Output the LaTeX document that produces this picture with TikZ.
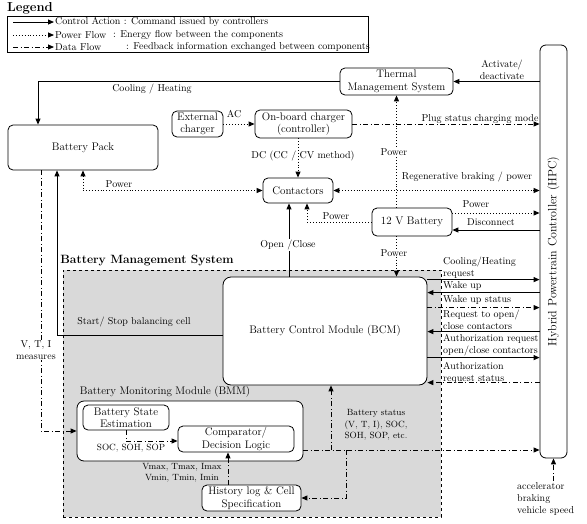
\documentclass[tikz,border=0pt]{standalone}
\usepackage{tikz}
\usetikzlibrary{arrows.meta}

\begin{document}
\begin{tikzpicture}[x=1pt, y=-1pt, >={Triangle[length=6pt,width=5pt]}]
\tikzstyle{box}=[draw, rounded corners=5pt, fill=white, line width=0.8pt, align=center, inner sep=1pt, font=\fontsize{11}{12.5}\selectfont]
\tikzstyle{lbl}=[inner sep=1pt, align=center, font=\fontsize{10}{12}\selectfont]
\tikzstyle{sml}=[inner sep=1pt, align=center, font=\fontsize{9}{11.5}\selectfont]
\tikzstyle{ctrl}=[->, line width=1pt]
\tikzstyle{pwr}=[->, line width=0.9pt, dash pattern=on 0.9pt off 2pt]
\tikzstyle{data}=[->, line width=0.9pt, dash pattern=on 5pt off 2.5pt on 1pt off 2.5pt]
\useasboundingbox (0,0) rectangle (587,523);

% legend
\node[font=\fontsize{13}{15}\bfseries\selectfont, inner sep=0pt] (legt) at (30,8) {Legend};
\node[draw, line width=0.6pt, minimum width=361pt, minimum height=36pt, inner sep=0pt] (leg) at (187.5,34) {};
\node[lbl, anchor=west] (lc) at (54,22) {Control Action : Command issued by controllers};
\node[lbl, anchor=west] (lp) at (54,35) {Power Flow};
\node[lbl, anchor=west] (lpd) at (112,35) {: Energy flow between the components};
\node[lbl, anchor=west] (ld) at (54,47) {Data Flow};
\node[lbl, anchor=west] (ldd) at (125,47) {: Feedback information exchanged between components};
\coordinate (lc0) at (13,22);
\coordinate (lp0) at (13,35);
\coordinate (ld0) at (13,47);
\draw[ctrl] (lc0) -- (lc.west);
\draw[pwr] (lp0) -- (lp.west);
\draw[data] (ld0) -- (ld.west);

% battery management system area
\node[draw, dashed, line width=0.7pt, fill=black!15, minimum width=378pt, minimum height=247pt, inner sep=0pt] (bms) at (252,393.5) {};
\node[font=\fontsize{12}{14}\bfseries\selectfont, inner sep=0pt] (bmst) at (147,261) {Battery Management System};

% blocks
\node[box, minimum width=150pt, minimum height=45pt] (pack) at (83,147.5) {Battery Pack};
\node[box, minimum width=113pt, minimum height=27pt] (tms) at (396.5,81.5) {Thermal\\Management System};
\node[box, minimum width=27pt, minimum height=413pt, rounded corners=6pt] (hpc) at (553.5,251.5) {};
\node[inner sep=0pt, rotate=90, font=\fontsize{12}{14}\selectfont] (hpct) at (hpc.center) {Hybrid Powertrain Controller (HPC)};
\node[box, minimum width=51pt, minimum height=26pt] (ext) at (197.5,124) {External\\charger};
\node[box, minimum width=97pt, minimum height=28pt] (obc) at (303.5,124) {On-board charger\\(controller)};
\node[box, minimum width=70pt, minimum height=25pt] (cont) at (298,190.5) {Contactors};
\node[box, minimum width=80pt, minimum height=28pt] (bat) at (412,222) {12 V Battery};
\node[box, minimum width=204pt, minimum height=108pt, rounded corners=8pt] (bcm) at (325,331) {Battery Control Module (BCM)};
\node[box, minimum width=226pt, minimum height=60pt, rounded corners=7pt] (bmm) at (190,431) {};
\node[box, minimum width=86pt, minimum height=25pt] (bse) at (126,417.5) {Battery State\\Estimation};
\node[box, minimum width=116pt, minimum height=26pt] (cdl) at (236,439) {Comparator/\\Decision Logic};
\node[box, minimum width=99pt, minimum height=26pt] (hist) at (251.5,498) {History log \& Cell\\Specification};
\node[lbl, align=left, anchor=north west] (acc) at (516,481) {accelerator\\braking\\vehicle speed};

% control actions
\draw[ctrl] (tms.west) -| ([xshift=-45pt]pack.north);
\draw[ctrl] (hpc.west |- tms.east) -- (tms.east);
\draw[ctrl] ([xshift=-9pt]cont.south |- bcm.north) -- ([xshift=-9pt]cont.south);
\draw[ctrl] ([yshift=-4pt]bcm.west) -| ([xshift=-26pt]pack.south);
\draw[ctrl] ([yshift=-8pt]bat.east -| hpc.west) -- ([yshift=-8pt]bat.east);
\draw[ctrl] ([yshift=-3pt]bcm.north east) -- ([yshift=-3pt]bcm.north east -| hpc.west);
\draw[ctrl] ([yshift=-16pt]bcm.north east -| hpc.west) -- ([yshift=-16pt]bcm.north east);
\draw[ctrl] ([yshift=-55pt]bcm.north east -| hpc.west) -- ([yshift=-55pt]bcm.north east);
\draw[ctrl] ([yshift=-81pt]bcm.north east) -- ([yshift=-81pt]bcm.north east -| hpc.west);

% power flows
\draw[pwr] (ext.east) -- (obc.west);
\draw[pwr] (obc.south -| cont.north) -- (cont.north);
\draw[pwr, <->] (pack.south) |- (cont.west);
\draw[pwr, <->] (cont.east) -- (cont.east -| hpc.west);
\draw[pwr] (bat.north -| tms.south) -- (tms.south);
\draw[pwr] ([yshift=9pt]bat.east) -- ([yshift=9pt]bat.east -| hpc.west);
\draw[pwr] (bat.west) -| ([xshift=9pt]cont.south);
\draw[pwr] ([xshift=-15.5pt]bat.south) -- ([xshift=-15.5pt]bat.south |- bcm.north);

% data flows
\draw[data] (obc.east) -- (obc.east -| hpc.west);
\draw[data] ([xshift=-42pt]pack.south) |- (bmm.west);
\draw[data] (bse.south) |- ([yshift=-2pt]cdl.west);
\draw[data] ([xshift=-23.5pt]hist.north) -- ([xshift=-23.5pt]hist.north |- cdl.south);
\coordinate (bs) at ([yshift=-19pt]bmm.east);
\draw[data] (bs) -- (bs -| hpc.west);
\draw[data] ([xshift=6pt]bcm.south |- bs) -- ([xshift=6pt]bcm.south);
\draw[data] ([xshift=21pt]bcm.south |- bs) |- (hist.east);
\draw[data] ([yshift=-31pt]bcm.north east) -- ([yshift=-31pt]bcm.north east -| hpc.west);
\draw[data] ([yshift=-106pt]bcm.north east -| hpc.west) -- ([yshift=-106pt]bcm.north east);
\draw[data] (acc.north -| hpc.south) -- (hpc.south);

% labels
\node[lbl] (lcool) at (152,89) {Cooling / Heating};
\node[lbl] (lact) at (502,70) {Activate/\\deactivate};
\node[lbl] (lac) at (234,114) {AC};
\node[lbl] (ldc) at (303,156) {DC (CC / CV method)};
\node[lbl, fill=white] (lpw1) at (394,152) {Power};
\node[lbl] (lplug) at (480,119) {Plug status charging mode};
\node[lbl] (lregen) at (467,177) {Regenerative braking / power};
\node[lbl] (lpw2) at (119,184) {Power};
\node[lbl] (lpw3) at (476,204) {Power};
\node[lbl] (ldis) at (491,222) {Disconnect};
\node[lbl] (lpw4) at (336,216) {Power};
\node[lbl, fill=white] (lopen) at (288,245) {Open /Close};
\node[lbl, fill=white] (lpw5) at (394,253) {Power};
\node[lbl] (lstart) at (134,322) {Start/ Stop balancing cell};
\node[lbl, fill=white] (lvti) at (36,350) {V, T, I\\measures};
\node[inner sep=1pt, font=\fontsize{11}{13}\selectfont] (lbmm) at (165,392) {Battery Monitoring Module (BMM)};
\node[sml] (lsoc) at (131,448) {SOC, SOH, SOP};
\node[sml] (lvmax) at (182,473) {Vmax, Tmax, Imax\\Vmin, Tmin, Imin};
\node[sml] (lbs) at (376,425) {Battery status\\(V, T, I), SOC,\\SOH, SOP, etc.};
\node[lbl, align=left, anchor=west] (lr1) at (442,267.5) {Cooling/Heating\\request};
\node[lbl, align=left, anchor=west] (lr2) at (442,286) {Wake up};
\node[lbl, align=left, anchor=west] (lr3) at (442,300) {Wake up status};
\node[lbl, align=left, anchor=west] (lr4) at (442,319.5) {Request to open/\\close contactors};
\node[lbl, align=left, anchor=west] (lr5) at (442,345) {Authorization request\\open/close contactors};
\node[lbl, align=left, anchor=west] (lr6) at (442,372.5) {Authorization\\request status};
\end{tikzpicture}
\end{document}
